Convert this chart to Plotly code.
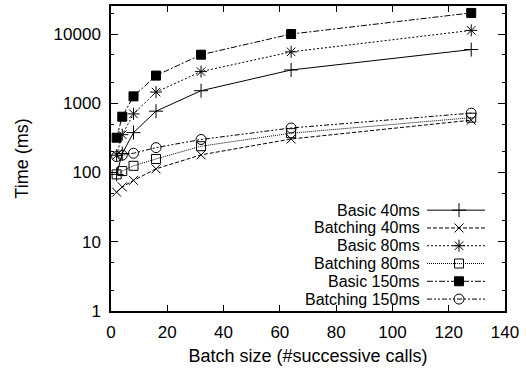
import plotly.graph_objects as go

# ---- data ----
batch_sizes = [2, 4, 8, 16, 32, 64, 128]
basic_40 = [94, 188, 377, 769, 1518, 3028, 5970]
batching_40 = [52, 62, 77, 113, 180, 305, 570]
basic_80 = [178, 352, 703, 1452, 2866, 5530, 11290]
batching_80 = [94, 105, 125, 157, 240, 370, 620]
basic_150 = [318, 640, 1259, 2512, 5030, 10000, 20180]
batching_150 = [170, 178, 190, 229, 300, 440, 720]

series_names = ["Basic 40ms", "Batching 40ms", "Basic 80ms",
                "Batching 80ms", "Basic 150ms", "Batching 150ms"]
series_values = [basic_40, batching_40, basic_80, batching_80, basic_150, batching_150]

y_tick_vals = [1, 10, 100, 1000, 10000]
y_tick_text = ["1", "10", "100", "1000", "10000"]
y_minor_vals = [2, 5, 20, 50, 200, 500, 2000, 5000, 20000]
x_tick_vals = [0, 20, 40, 60, 80, 100, 120, 140]

# ---- styles ----
styles = [
    dict(dash="solid", symbol="cross-thin", size=10),
    dict(dash="4px,2px", symbol="x-thin", size=9),
    dict(dash="2px,2px", symbol="asterisk", size=10),
    dict(dash="1px,1px", symbol="square-open", size=9),
    dict(dash="6px,2px,2px,2px", symbol="square", size=9),
    dict(dash="5px,2px,2px,2px,2px,2px", symbol="circle-open", size=10),
]

FONT = "Liberation Sans, Arial, sans-serif"
TICK_SIZE = 17
TITLE_SIZE = 18
LEGEND_SIZE = 16
fig = go.Figure()

for name, vals, st in zip(series_names, series_values, styles):
    fig.add_trace(go.Scatter(
        x=batch_sizes, y=vals, name=name, mode="lines+markers",
        line=dict(color="black", width=1, dash=st["dash"]),
        marker=dict(symbol=st["symbol"], size=st["size"], color="black",
                    line=dict(color="black", width=1)),
        showlegend=False,
    ))

# ---- gnuplot-style legend (text right, sample on the right) in pixel coords ----
L_LEFT, L_RIGHT, L_TEXT = 427, 485, 421
row0, row_step = 209.5, 17.9
annotations = []
for i, (name, st) in enumerate(zip(series_names, styles)):
    yy = row0 + i * row_step
    fig.add_trace(go.Scatter(
        x=[L_LEFT, L_RIGHT], y=[yy, yy], xaxis="x2", yaxis="y2", mode="lines",
        line=dict(color="black", width=1, dash=st["dash"]), showlegend=False,
        hoverinfo="skip"))
    fig.add_trace(go.Scatter(
        x=[(L_LEFT + L_RIGHT) / 2 + 3], y=[yy], xaxis="x2", yaxis="y2", mode="markers",
        marker=dict(symbol=st["symbol"], size=st["size"], color="black",
                    line=dict(color="black", width=1)),
        showlegend=False, hoverinfo="skip"))
    annotations.append(dict(x=L_TEXT, y=yy, xref="x2", yref="y2", text=name,
                            showarrow=False, xanchor="right", yanchor="middle",
                            borderpad=0,
                            font=dict(family=FONT, size=LEGEND_SIZE, color="black")))

fig.update_layout(
    width=527, height=370,
    margin=dict(l=111, r=22, t=4, b=59),
    paper_bgcolor="white", plot_bgcolor="white",
    font=dict(family=FONT, size=TICK_SIZE, color="black"),
    annotations=annotations,
    xaxis=dict(
        range=[0, 140], tickvals=x_tick_vals, ticks="inside", ticklen=6,
        tickcolor="black", showline=True, linecolor="black", linewidth=1.5,
        mirror="ticks", showgrid=False, zeroline=False,
        tickfont=dict(size=TICK_SIZE),
        title=dict(text="Batch size (#successive calls)", standoff=8,
                   font=dict(size=TITLE_SIZE)),
        ticklabelstandoff=5,
    ),
    yaxis=dict(
        type="log", range=[0, 4.405], tickvals=y_tick_vals, ticktext=y_tick_text,
        ticks="inside", ticklen=7, tickcolor="black", showline=True,
        linecolor="black", linewidth=1.5, mirror="ticks", showgrid=False,
        zeroline=False, tickfont=dict(size=TICK_SIZE),
        minor=dict(tickvals=y_minor_vals, ticks="inside", ticklen=3,
                   tickcolor="black", showgrid=False),
        title=dict(text="Time (ms)", standoff=20, font=dict(size=TITLE_SIZE)),
        ticklabelstandoff=5,
    ),
    xaxis2=dict(overlaying="x", range=[111, 505], visible=False),
    yaxis2=dict(overlaying="y", range=[311, 4], visible=False),
)

fig.write_html("out.html")
